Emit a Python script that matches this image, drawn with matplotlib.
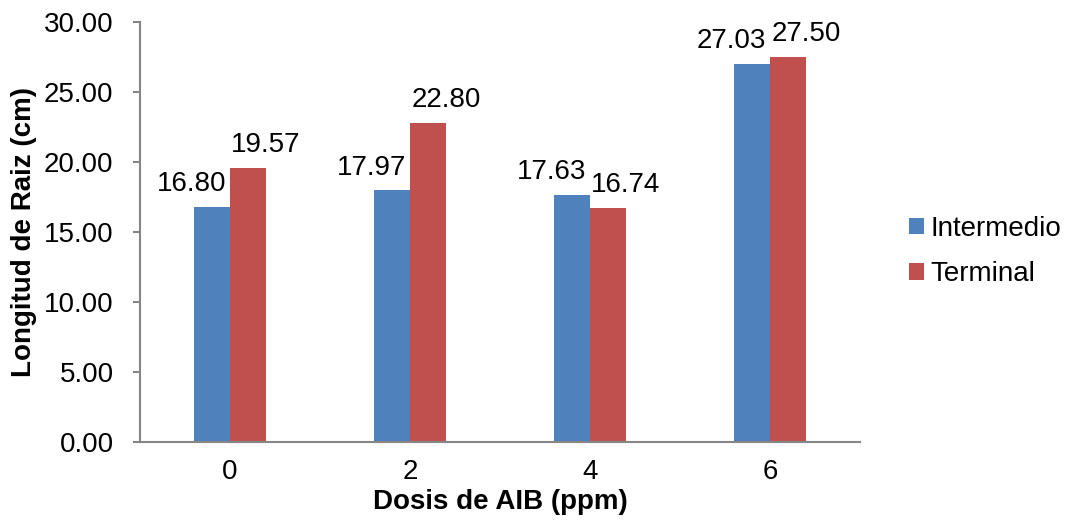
import matplotlib
matplotlib.use("Agg")
import matplotlib.pyplot as plt
import numpy as np

plt.rcParams['font.family'] = ['Liberation Sans', 'DejaVu Sans']

categories = ["0", "2", "4", "6"]
series_names = ["Intermedio", "Terminal"]
intermedio = [16.80, 17.97, 17.63, 27.03]
terminal = [19.57, 22.80, 16.74, 27.50]
yticks = [0, 5, 10, 15, 20, 25, 30]

colors = ["#4F81BD", "#C0504D"]
axis_color = "#868686"
fs = 20

fig = plt.figure(figsize=(10.68, 5.2), dpi=100)
ax = fig.add_axes([140/1068, 1-442/520, 720/1068, 420/520])

x = np.arange(len(categories))
w = 0.2
b1 = ax.bar(x - w/2, intermedio, w, color=colors[0], label=series_names[0])
b2 = ax.bar(x + w/2, terminal, w, color=colors[1], label=series_names[1])

for bars, vals, dx in ((b1, intermedio, -15), (b2, terminal, 13)):
    for r, v in zip(bars, vals):
        ax.annotate(f"{v:.2f}", (r.get_x() + r.get_width()/2, v),
                    xytext=(dx, 7), textcoords="offset points",
                    ha="center", va="bottom", fontsize=fs, color="black")

ax.set_xlim(-0.5, len(categories) - 0.5)
ax.set_ylim(0, 30)
ax.set_yticks(yticks)
ax.set_yticklabels([f"{t:.2f}" for t in yticks], fontsize=fs)
ax.set_xticks(x)
ax.set_xticklabels(categories, fontsize=fs)
ax.tick_params(axis='x', length=0, pad=12)
ax.tick_params(axis='y', length=5, width=1.5, color=axis_color, direction='out', pad=14)

for s in ("top", "right"):
    ax.spines[s].set_visible(False)
for s in ("left", "bottom"):
    ax.spines[s].set_color(axis_color)
    ax.spines[s].set_linewidth(1.5)

ax.set_xlabel("Dosis de AIB (ppm)", fontsize=fs, fontweight="bold", labelpad=3)
ax.set_ylabel("Longitud de Raiz (cm)", fontsize=fs, fontweight="bold", labelpad=5)

leg = ax.legend(loc="center left", frameon=False,
                fontsize=fs, handlelength=0.55, handleheight=0.55,
                handletextpad=0.22, labelspacing=0.7, borderpad=0, borderaxespad=0)
leg.set_bbox_to_anchor((1.068, 0.4536), transform=ax.transAxes)

fig.savefig("out.png", dpi=100)
